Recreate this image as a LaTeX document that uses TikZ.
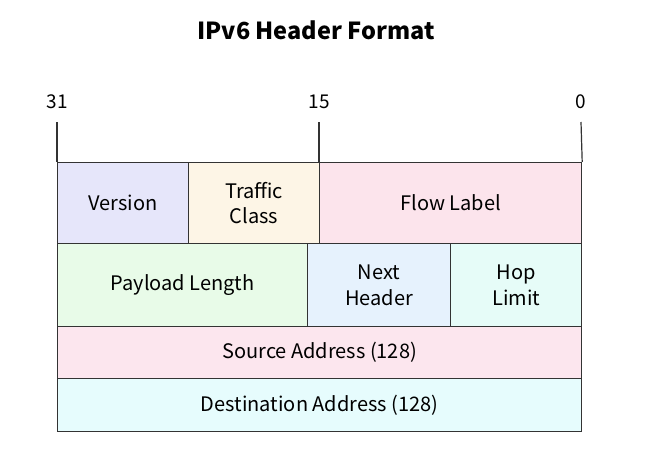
\documentclass[tikz,border=0pt]{standalone}
\usepackage{fontspec}
\setmainfont{Noto Sans CJK SC}
\definecolor{cver}{HTML}{E6E6FA}
\definecolor{ctc}{HTML}{FDF5E6}
\definecolor{cfl}{HTML}{FCE4EC}
\definecolor{cpl}{HTML}{E8FBE8}
\definecolor{cnh}{HTML}{E6F2FD}
\definecolor{chl}{HTML}{E6FCF8}
\definecolor{csrc}{HTML}{FCE6EE}
\definecolor{cdst}{HTML}{E6FCFD}
\definecolor{edge}{HTML}{333333}
\begin{document}
\begin{tikzpicture}[x=1pt,y=-1pt,
  field/.style={draw=edge,line width=1.2pt,align=center,font=\fontsize{20}{25.5}\selectfont,inner sep=0pt,anchor=north west},
  tick/.style={draw=edge,line width=1.2pt},
  bitlab/.style={font=\fontsize{19}{22}\selectfont}]
\useasboundingbox (0,0) rectangle (645,460);
\node[font=\bfseries\fontsize{23.5}{27}\selectfont] (title) at (316,30) {IPv6 Header Format};
% bit labels
\node[bitlab] (b31) at (57,102) {31};
\node[bitlab] (b15) at (319,102) {15};
\node[bitlab] (b0) at (581,102) {0};
\coordinate (t31) at (57,122);
\coordinate (t15) at (319,122);
\coordinate (t0) at (581,122);
% row 1
\node[field,fill=cver,minimum width=131pt,minimum height=81pt] (ver) at (57,162) {Version};
\node[field,fill=ctc,minimum width=131pt,minimum height=81pt] (tc) at (188,162) {Traffic\\Class};
\node[field,fill=cfl,minimum width=262pt,minimum height=81pt] (fl) at (319,162) {Flow Label};
% row 2
\node[field,fill=cpl,minimum width=250pt,minimum height=83pt] (pl) at (57,243) {Payload Length};
\node[field,fill=cnh,minimum width=143pt,minimum height=83pt] (nh) at (307,243) {Next\\Header};
\node[field,fill=chl,minimum width=131pt,minimum height=83pt] (hl) at (450,243) {Hop\\Limit};
% rows 3-4
\node[field,fill=csrc,minimum width=524pt,minimum height=52pt] (src) at (57,326) {Source Address (128)};
\node[field,fill=cdst,minimum width=524pt,minimum height=53pt] (dst) at (57,378) {Destination Address (128)};
% ticks
\draw[tick] (t31) -- (ver.north west);
\draw[tick] (t15) -- (fl.north west);
\draw[tick] (t0) -- (fl.north east);
\end{tikzpicture}
\end{document}
